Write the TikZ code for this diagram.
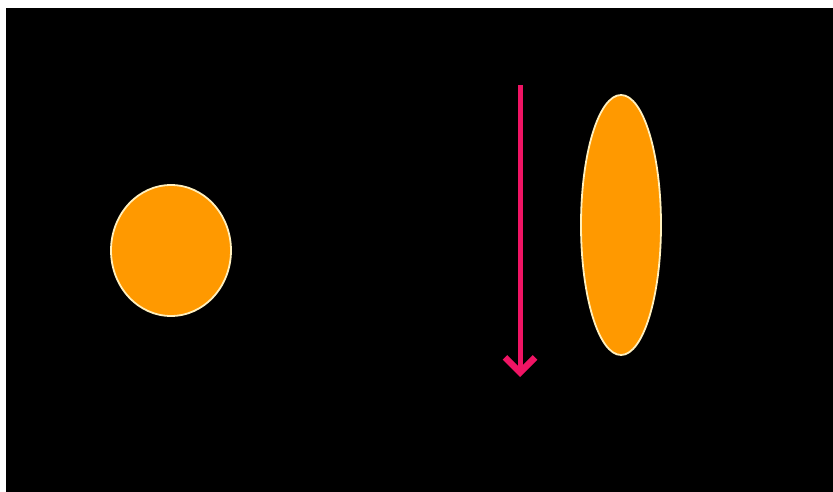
\documentclass[tikz,border=0pt]{standalone}
\usetikzlibrary{arrows.meta,shapes.geometric}
\definecolor{orfill}{RGB}{255,153,0}
\definecolor{orline}{RGB}{255,240,190}
\definecolor{pinkarrow}{RGB}{240,20,100}
\begin{document}
\begin{tikzpicture}[x=1pt,y=-1pt,
  blob/.style={ellipse, draw=orline, fill=orfill, line width=1.8pt, inner sep=0pt},
  fallarrow/.style={draw=pinkarrow, line width=5pt, -{Straight Barb[length=15pt,width=30pt,line width=6.5pt]}}]
\useasboundingbox (0,0) rectangle (833,492);
\fill[white] (0,0) rectangle (833,492);
\fill[black] (6,8) rectangle (833,492);
\node[blob, minimum width=120pt, minimum height=131pt] (ball) at (171,250.5) {};
\node[blob, minimum width=80pt, minimum height=260pt] (flat) at (621,225) {};
\coordinate (atop) at (520,85);
\coordinate (abot) at (520,377);
\draw[fallarrow] (atop) -- (abot);
\end{tikzpicture}
\end{document}
